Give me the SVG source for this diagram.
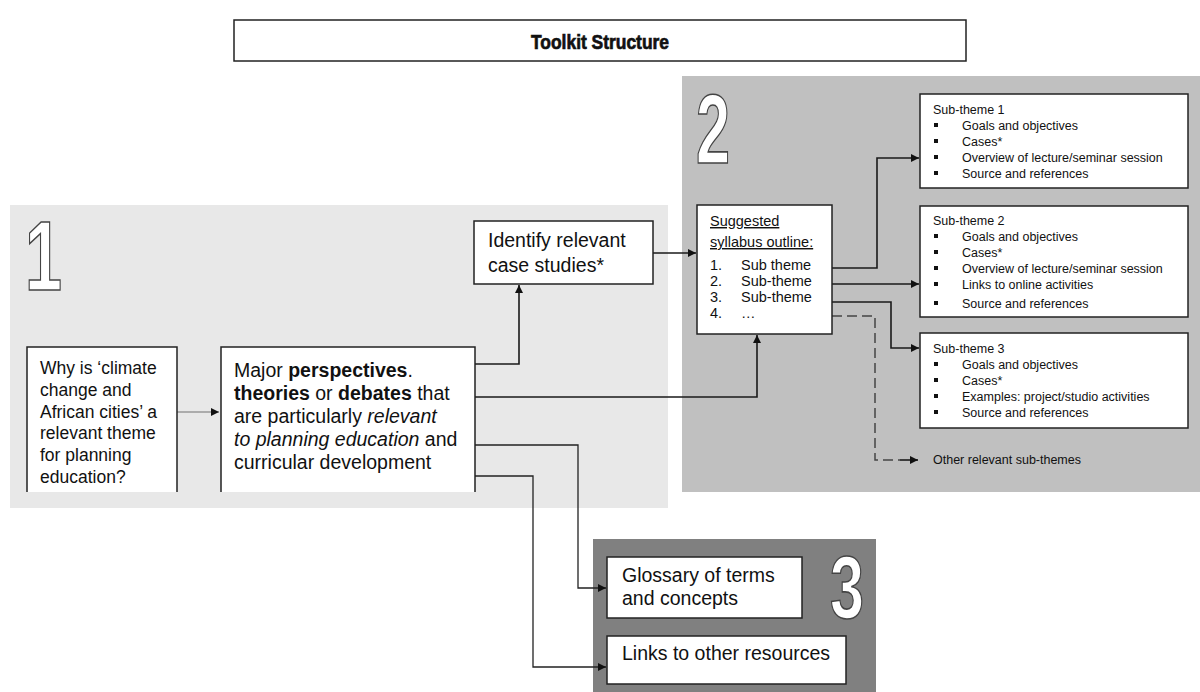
<svg xmlns="http://www.w3.org/2000/svg" width="1200" height="692" viewBox="0 0 1200 692">
<style>
.box{fill:#fff;stroke:#222;stroke-width:1.5}
.t{font-family:"Liberation Sans",Arial,sans-serif;fill:#111}
.big{font-size:19.5px}
.why{font-size:17.5px}
.syl{font-size:14.5px}
.sub{font-size:12.5px}
.num{font-family:"Liberation Sans Narrow","Liberation Sans",Arial,sans-serif;font-weight:bold;fill:#fff;stroke:#444;stroke-width:1.6}
.c{fill:none;stroke:#1a1a1a;stroke-width:1.6}
.cg{fill:none;stroke:#999;stroke-width:1.3}
.ct{fill:none;stroke:#222;stroke-width:1.3}
.cd{fill:none;stroke:#444;stroke-width:1.5;stroke-dasharray:10 5}
.b{font-weight:bold}
.i{font-style:italic}
.u{text-decoration:underline}
</style>
<defs>
<marker id="ah" viewBox="0 0 10 10" refX="10" refY="5" markerWidth="9" markerHeight="8" markerUnits="userSpaceOnUse" orient="auto">
<path d="M0,0 L10,5 L0,10 z" fill="#111"/>
</marker>
<rect id="bl" width="4" height="4" fill="#111"/>
</defs>
<rect width="1200" height="692" fill="#fff"/>

<!-- panels -->
<rect id="panel1" x="10" y="205" width="658" height="303" fill="#e8e8e8"/>
<rect id="panel2" x="682" y="76" width="518" height="416" fill="#c0c0c0"/>
<rect id="panel3" x="593" y="539" width="283" height="153" fill="#808080"/>

<text class="num" x="25" y="290" font-size="98" textLength="37" lengthAdjust="spacingAndGlyphs">1</text>
<text class="num" x="696" y="163" font-size="98" textLength="34" lengthAdjust="spacingAndGlyphs">2</text>
<text class="num" x="830" y="618" font-size="89" textLength="34" lengthAdjust="spacingAndGlyphs">3</text>

<g id="title">
<rect x="234" y="20" width="732" height="41" class="box"/>
<text class="t b" x="531" y="49" font-size="20.5" textLength="138" lengthAdjust="spacingAndGlyphs" stroke="#111" stroke-width="0.7">Toolkit Structure</text>
</g>

<g id="connectors">
<path class="cg" d="M177,412 H219" marker-end="url(#ah)"/>
<path class="c" d="M475,364 H519 V285" marker-end="url(#ah)"/>
<path class="c" d="M475,397 H757 V335" marker-end="url(#ah)"/>
<path class="ct" d="M475,445 H578 V588 H606" marker-end="url(#ah)"/>
<path class="ct" d="M475,476 H533 V667 H606" marker-end="url(#ah)"/>
<path class="c" d="M653,253 H696" marker-end="url(#ah)"/>
<path class="c" d="M832,268 H877 V158 H919" marker-end="url(#ah)"/>
<path class="c" d="M832,284 H919" marker-end="url(#ah)"/>
<path class="c" d="M832,302 H891 V348 H919" marker-end="url(#ah)"/>
<path class="cd" d="M832,316 H875 V460 H900"/>
<path class="c" d="M900,460 H918" marker-end="url(#ah)"/>
</g>

<g id="why">
<path d="M27,492 V347 H177 V492" fill="#fff" stroke="#222" stroke-width="1.5"/>
<text class="t why" x="40"><tspan x="40" y="374">Why is ‘climate</tspan><tspan x="40" y="396">change and</tspan><tspan x="40" y="418">African cities’ a</tspan><tspan x="40" y="439">relevant theme</tspan><tspan x="40" y="461">for planning</tspan><tspan x="40" y="483">education?</tspan></text>
</g>

<g id="major">
<path d="M221,492 V347 H475 V492" fill="#fff" stroke="#222" stroke-width="1.5"/>
<text class="t big">
<tspan x="234" y="377">Major <tspan class="b">perspectives</tspan>.</tspan>
<tspan x="234" y="400"><tspan class="b">theories</tspan> or <tspan class="b">debates</tspan> that</tspan>
<tspan x="234" y="423">are particularly <tspan class="i">relevant</tspan></tspan>
<tspan x="234" y="446"><tspan class="i">to planning education</tspan> and</tspan>
<tspan x="234" y="469">curricular development</tspan>
</text>
</g>

<g id="identify">
<rect x="474" y="221" width="179" height="63" class="box"/>
<text class="t big"><tspan x="488" y="247">Identify relevant</tspan><tspan x="488" y="272">case studies*</tspan></text>
</g>

<g id="syllabus">
<rect x="697" y="205" width="135" height="129" class="box"/>
<text class="t syl u" x="710" y="226">Suggested</text>
<text class="t syl u" x="710" y="247">syllabus outline:</text>
<text class="t syl"><tspan x="710" y="270">1.</tspan><tspan x="741" y="270">Sub theme</tspan><tspan x="710" y="286">2.</tspan><tspan x="741" y="286">Sub-theme</tspan><tspan x="710" y="302">3.</tspan><tspan x="741" y="302">Sub-theme</tspan><tspan x="710" y="318">4.</tspan><tspan x="741" y="318">…</tspan></text>
</g>

<g id="subtheme1">
<rect x="920" y="94" width="268" height="94" class="box"/>
<text class="t sub"><tspan x="933" y="114">Sub-theme 1</tspan><tspan x="962" y="130">Goals and objectives</tspan><tspan x="962" y="146">Cases*</tspan><tspan x="962" y="162">Overview of lecture/seminar session</tspan><tspan x="962" y="178">Source and references</tspan></text>
<use href="#bl" x="934" y="123"/><use href="#bl" x="934" y="139"/><use href="#bl" x="934" y="155"/><use href="#bl" x="934" y="171"/>
</g>

<g id="subtheme2">
<rect x="920" y="206" width="268" height="111" class="box"/>
<text class="t sub"><tspan x="933" y="225">Sub-theme 2</tspan><tspan x="962" y="241">Goals and objectives</tspan><tspan x="962" y="257">Cases*</tspan><tspan x="962" y="273">Overview of lecture/seminar session</tspan><tspan x="962" y="289">Links to online activities</tspan><tspan x="962" y="308">Source and references</tspan></text>
<use href="#bl" x="934" y="234"/><use href="#bl" x="934" y="250"/><use href="#bl" x="934" y="266"/><use href="#bl" x="934" y="282"/><use href="#bl" x="934" y="301"/>
</g>

<g id="subtheme3">
<rect x="920" y="333" width="268" height="95" class="box"/>
<text class="t sub"><tspan x="933" y="353">Sub-theme 3</tspan><tspan x="962" y="369">Goals and objectives</tspan><tspan x="962" y="385">Cases*</tspan><tspan x="962" y="401">Examples: project/studio activities</tspan><tspan x="962" y="417">Source and references</tspan></text>
<use href="#bl" x="934" y="362"/><use href="#bl" x="934" y="378"/><use href="#bl" x="934" y="394"/><use href="#bl" x="934" y="410"/>
</g>

<g id="other">
<text class="t sub" x="933" y="464">Other relevant sub-themes</text>
</g>

<g id="glossary">
<rect x="607" y="557" width="195" height="61" class="box"/>
<text class="t big"><tspan x="622" y="582">Glossary of terms</tspan><tspan x="622" y="605">and concepts</tspan></text>
</g>

<g id="links">
<rect x="607" y="636" width="239" height="48" class="box"/>
<text class="t big" x="622" y="660">Links to other resources</text>
</g>
</svg>
